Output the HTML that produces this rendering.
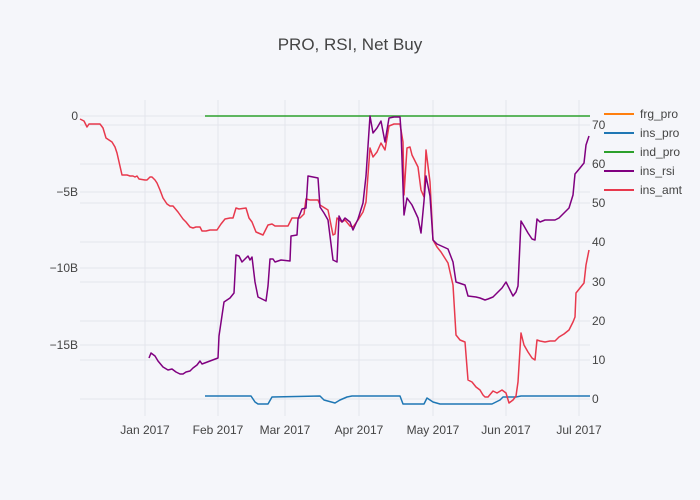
<!DOCTYPE html>
<html><head><meta charset="utf-8"><style>
body{margin:0;background:#f5f6fa;}
svg{display:block;font-family:"Liberation Sans",sans-serif;}
</style></head><body>
<svg width="700" height="500" viewBox="0 0 700 500">
<rect width="700" height="500" fill="#f5f6fa"/>
<text x="350" y="50" font-size="17" fill="#444" text-anchor="middle">PRO, RSI, Net Buy</text>
<g stroke="#e3e5ec" stroke-width="1">
<line x1="80" x2="590" y1="116" y2="116"/><line x1="80" x2="590" y1="192" y2="192"/><line x1="80" x2="590" y1="268" y2="268"/><line x1="80" x2="590" y1="345" y2="345"/>
<line x1="80" x2="590" y1="125" y2="125"/><line x1="80" x2="590" y1="164" y2="164"/><line x1="80" x2="590" y1="203" y2="203"/><line x1="80" x2="590" y1="242" y2="242"/><line x1="80" x2="590" y1="282" y2="282"/><line x1="80" x2="590" y1="321" y2="321"/><line x1="80" x2="590" y1="360" y2="360"/><line x1="80" x2="590" y1="399" y2="399"/>
<line x1="145" x2="145" y1="100" y2="416"/><line x1="218" x2="218" y1="100" y2="416"/><line x1="285" x2="285" y1="100" y2="416"/><line x1="359" x2="359" y1="100" y2="416"/><line x1="433" x2="433" y1="100" y2="416"/><line x1="506" x2="506" y1="100" y2="416"/><line x1="579" x2="579" y1="100" y2="416"/>
</g>
<g font-size="12" fill="#444" text-anchor="end">
<text x="78" y="120">0</text><text x="78" y="196">−5B</text><text x="78" y="272">−10B</text><text x="78" y="349">−15B</text>
</g>
<g font-size="12" fill="#444" text-anchor="start">
<text x="592" y="129">70</text><text x="592" y="168">60</text><text x="592" y="207">50</text><text x="592" y="246">40</text><text x="592" y="286">30</text><text x="592" y="325">20</text><text x="592" y="364">10</text><text x="592" y="403">0</text>
</g>
<g font-size="12" fill="#444" text-anchor="middle">
<text x="145" y="434">Jan 2017</text><text x="218" y="434">Feb 2017</text><text x="285" y="434">Mar 2017</text><text x="359" y="434">Apr 2017</text><text x="433" y="434">May 2017</text><text x="506" y="434">Jun 2017</text><text x="579" y="434">Jul 2017</text>
</g>
<g fill="none" stroke-width="1.5" stroke-linejoin="round">
<polyline stroke="#2ca02c" points="205,116 590,116"/>
<polyline stroke="#1f77b4" points="205,396 251,396 255,402 258,404 268,404 272,397 320,396 324,400 335,403 340,400 347,397 352,396 400,396 403,404 424,404 427,398 433,402 440,404 492,404 500,400 503,397 510,397 516,397 521,396 590,396"/>
<polyline stroke="#e8394d" points="80,119 84,121 87,127 89,124 94,124 100,124 103,128 106,138 112,142 115,147 117,153 122,175 127,175 130,176 133,176 135,177 137,176 139,179 145,180 147,180 150,177 152,177 155,180 157,183 160,190 163,198 167,204 170,206 173,206 178,212 183,219 186,222 190,227 193,228 196,227 200,227 202,231 206,231 210,230 217,230 221,224 225,219 230,218 233,218 236,208 239,209 246,208 249,218 252,222 256,232 263,235 268,225 272,224 275,226 288,226 292,218 300,218 304,214 306,199 310,200 318,200 320,205 328,210 333,235 335,234 337,218 342,222 345,220 350,226 353,227 358,220 363,212 366,202 370,148 373,157 377,152 381,143 385,150 389,126 394,124 400,124 403,142 404,195 407,148 410,147 412,155 418,167 421,190 424,197 426,150 430,182 433,240 437,247 441,252 448,263 453,285 456,335 460,340 465,342 468,380 472,382 476,387 480,390 483,395 485,397 488,397 493,391 497,393 502,390 506,393 509,403 513,400 516,396 518,382 521,333 524,345 528,352 532,358 535,360 537,340 540,341 545,342 550,341 555,341 559,337 564,334 569,330 573,322 575,317 576,293 580,288 584,283 586,265 589,250"/>
<polyline stroke="#800080" points="149,358 151,353 155,356 158,361 163,367 168,370 172,369 176,372 180,374 183,374 186,372 190,371 193,368 197,365 200,361 202,364 218,358 219,336 224,302 230,298 234,293 236,255 239,256 242,262 248,256 250,260 252,257 255,282 258,297 262,299 266,301 268,286 270,259 273,259 275,262 281,260 290,261 291,236 297,235 298,219 302,209 306,208 308,176 318,178 320,207 324,213 328,220 333,260 337,262 339,216 342,222 345,218 350,222 353,230 358,219 363,203 366,176 370,116 373,133 377,128 381,121 385,142 389,118 394,117 400,117 401,131 404,215 407,198 412,205 418,218 421,233 424,201 426,176 430,196 433,240 437,244 448,249 453,262 456,282 465,285 468,296 476,297 480,298 485,300 488,299 493,297 497,293 502,288 506,282 510,290 513,296 516,292 518,286 521,221 524,226 528,233 532,239 535,240 537,219 540,222 545,220 550,220 555,220 559,218 564,213 569,208 573,195 575,174 580,168 584,163 586,145 589,136"/>
</g>
<g font-size="12" fill="#444">
<line x1="604" x2="634" y1="114" y2="114" stroke="#ff7f0e" stroke-width="2"/><text x="640" y="118">frg_pro</text>
<line x1="604" x2="634" y1="133" y2="133" stroke="#1f77b4" stroke-width="2"/><text x="640" y="137">ins_pro</text>
<line x1="604" x2="634" y1="152" y2="152" stroke="#2ca02c" stroke-width="2"/><text x="640" y="156">ind_pro</text>
<line x1="604" x2="634" y1="171" y2="171" stroke="#800080" stroke-width="2"/><text x="640" y="175">ins_rsi</text>
<line x1="604" x2="634" y1="190" y2="190" stroke="#e8394d" stroke-width="2"/><text x="640" y="194">ins_amt</text>
</g>
</svg>
</body></html>
